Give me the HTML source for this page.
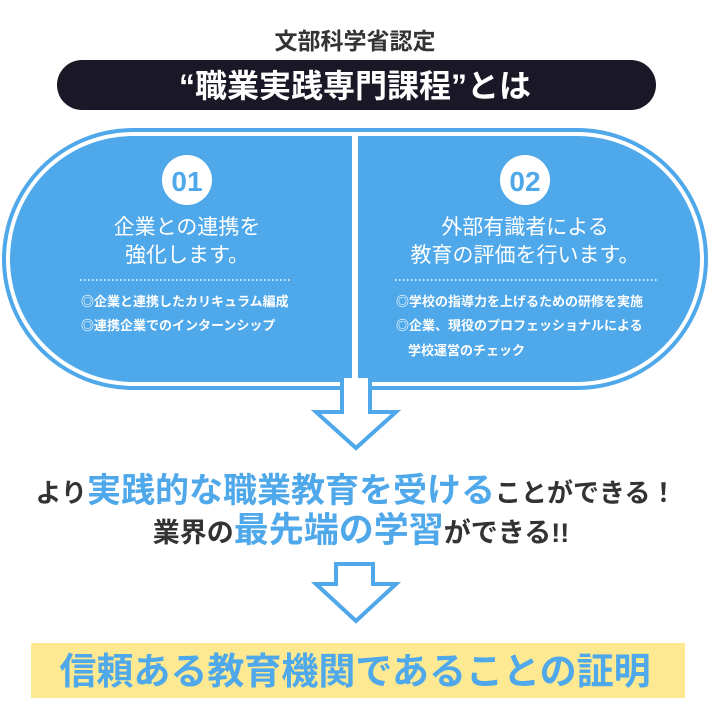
<!DOCTYPE html>
<html><head><meta charset="utf-8"><style>
body{margin:0;width:710px;height:710px;background:#fff;overflow:hidden}
svg text{font-family:"Liberation Sans","Noto Sans CJK JP",sans-serif}
</style></head><body>
<svg width="710" height="710" viewBox="0 0 710 710" xmlns="http://www.w3.org/2000/svg">
<text x="355" y="49" text-anchor="middle" font-size="23" font-weight="bold" fill="#333">文部科学省認定</text>
<rect x="57" y="60" width="599" height="50" rx="25" fill="#1a1726"/>
<text x="355" y="97" text-anchor="middle" font-size="32" font-weight="bold" fill="#fff">“職業実践専門課程”とは</text>
<rect x="2" y="128" width="706" height="262" rx="131" fill="#4fa8ea"/>
<rect x="6" y="132" width="698" height="254" rx="127" fill="#fff"/>
<rect x="10" y="136" width="690" height="246" rx="123" fill="#4fa8ea"/>
<rect x="352" y="134" width="6" height="250" fill="#fff"/>
<polygon points="342,383 370,383 370,412 396,412 356,448 316,412 342,412" fill="#fff" stroke="#4fa8ea" stroke-width="4" stroke-linejoin="miter"/>
<rect x="344" y="378" width="24" height="8" fill="#fff"/>
<circle cx="187" cy="180" r="25" fill="#fff"/>
<text x="187" y="191" text-anchor="middle" font-size="28" font-weight="bold" fill="#4fa8ea">01</text>
<circle cx="525" cy="180" r="25" fill="#fff"/>
<text x="525" y="191" text-anchor="middle" font-size="28" font-weight="bold" fill="#4fa8ea">02</text>
<g fill="#fff" font-size="21" text-anchor="middle">
<text x="187" y="234">企業との連携を</text>
<text x="187" y="262">強化します。</text>
<text x="525" y="234">外部有識者による</text>
<text x="525" y="262">教育の評価を行います。</text>
</g>
<line x1="80" y1="280" x2="292" y2="280" stroke="#fff" stroke-width="1.5" stroke-dasharray="1.5 2.5"/>
<line x1="395" y1="280" x2="657" y2="280" stroke="#fff" stroke-width="1.5" stroke-dasharray="1.5 2.5"/>
<g fill="#fff" font-size="13" font-weight="bold">
<text x="81" y="306">◎企業と連携したカリキュラム編成</text>
<text x="81" y="330">◎連携企業でのインターンシップ</text>
<text x="396" y="306">◎学校の指導力を上げるための研修を実施</text>
<text x="396" y="330">◎企業、現役のプロフェッショナルによる</text>
<text x="408" y="355">学校運営のチェック</text>
</g>
<text x="356" y="502" text-anchor="middle" font-weight="bold" fill="#333"><tspan font-size="26">より</tspan><tspan fill="#4fa8ea" font-size="34">実践的な職業教育を受ける</tspan><tspan font-size="26">ことができる！</tspan></text>
<text x="361" y="542" text-anchor="middle" font-weight="bold" fill="#333"><tspan font-size="27">業界の</tspan><tspan fill="#4fa8ea" font-size="35">最先端の学習</tspan><tspan font-size="27">ができる!!</tspan></text>
<polygon points="336,564 373,564 373,584 396,584 356,621 316,584 336,584" fill="#fff" stroke="#4fa8ea" stroke-width="4"/>
<rect x="31" y="643" width="654" height="55" fill="#fde991"/>
<text x="355" y="684" text-anchor="middle" font-size="37" font-weight="bold" fill="#4fa8ea">信頼ある教育機関であることの証明</text>
</svg>
</body></html>
